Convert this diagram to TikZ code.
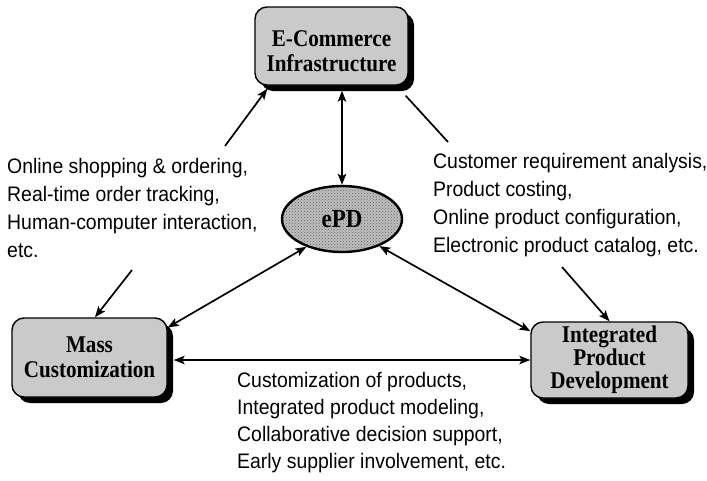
\documentclass[tikz,border=0pt]{standalone}
\usepackage{fontspec}
\setmainfont{Liberation Serif}
\newfontfamily\boxserif[FakeStretch=0.88]{Liberation Serif}
\newfontfamily\notesans[FakeStretch=0.925]{Liberation Sans}
\usetikzlibrary{arrows.meta,shadows,shapes.geometric,patterns}
\definecolor{boxgray}{HTML}{CACACA}
\definecolor{ovalgray}{HTML}{BEBEBE}
\begin{document}
\begin{tikzpicture}[x=1pt,y=-1pt,
  box/.style={draw=black, line width=1.4pt, fill=boxgray, rounded corners=12pt,
    align=center, inner sep=0pt,
    font=\boxserif\fontsize{24}{25}\selectfont\bfseries,
    drop shadow={shadow xshift=6pt, shadow yshift=-6pt, fill=black, opacity=1}},
  oval/.style={ellipse, draw=black, line width=2.4pt,
    preaction={fill=ovalgray}, pattern=crosshatch dots, pattern color=black!60,
    minimum width=120pt, minimum height=66pt, inner sep=0pt,
    font=\boxserif\fontsize{26}{26}\selectfont\bfseries},
  infotext/.style={align=left, inner sep=0pt, font=\notesans\fontsize{21}{28}\selectfont},
  conn/.style={line width=1.7pt},
  tip/.tip={Stealth[length=11pt,width=8.5pt,inset=2.5pt]},
  arr/.style={conn, -tip},
  biarr/.style={conn, tip-tip}
]
\useasboundingbox (0,0) rectangle (707,480);

% the three partner areas and the central ePD oval
\node[box, minimum width=153pt, minimum height=78pt] (ec) at (331.5,46)
  {\rule{0pt}{26pt}E-Commerce\\Infrastructure};
\node[box, minimum width=155pt, minimum height=79pt] (mc) at (89.5,357.5)
  {Mass\\Customization};
\node[box, minimum width=157pt, minimum height=76pt,
  font=\boxserif\fontsize{24}{23}\selectfont\bfseries] (ipd) at (609.5,360)
  {Integrated\\Product\\Development};
\node[oval] (epd) at (342,219) {ePD};

% descriptions of each link (anchored on the baseline of the last line)
\node[infotext, anchor=base west] (shoptext) at (7,257)
  {Online shopping \& ordering,\\Real-time order tracking,\\Human-computer interaction,\\etc.};
\node[infotext, anchor=base west] (reqtext) at (433,252)
  {Customer requirement analysis,\\Product costing,\\Online product configuration,\\Electronic product catalog, etc.};
\node[infotext, anchor=base west, font=\notesans\fontsize{21}{26.7}\selectfont] (cmtext) at (237,468)
  {Customization of products,\\Integrated product modeling,\\Collaborative decision support,\\Early supplier involvement, etc.};

% free ends of the leader lines next to the descriptions
\coordinate (shopTop) at (225,146);
\coordinate (shopBot) at (132,270);
\coordinate (reqTop) at (448,142);
\coordinate (reqBot) at (562,267);

% leader lines
\draw[arr] (shopTop) -- ([xshift=13pt,yshift=-3pt]ec.south west);
\draw[conn] ([xshift=-3pt,yshift=-10pt]ec.south east) -- (reqTop);
\draw[arr] (shopBot) -- ([xshift=5.5pt]mc.north);
\draw[arr] (reqBot) -- (ipd.north);

% two-way links
\draw[biarr] (epd.north) -- ([yshift=-5pt]epd.north |- ec.south);
\draw[biarr] (mc.21) -- (epd.218);
\draw[biarr] (epd.324) -- (ipd.160);
\draw[biarr] ([xshift=6pt]ipd.west -| mc.east) -- (ipd.west);
\end{tikzpicture}
\end{document}
